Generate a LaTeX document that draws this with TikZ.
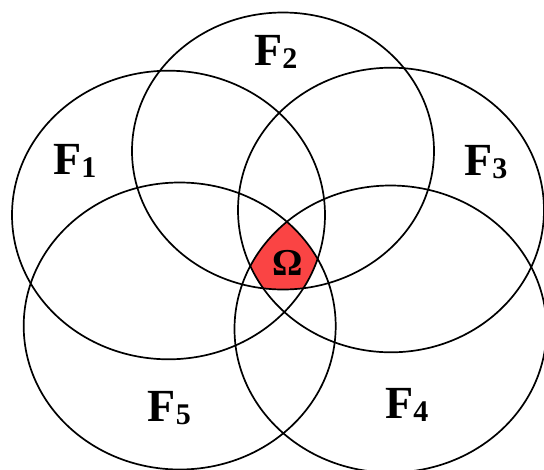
\documentclass[tikz,border=0pt]{standalone}
\usepackage{fontspec}
\setmainfont{Liberation Serif}
\definecolor{omegared}{RGB}{250,68,68}
\tikzset{
  ring/.style={draw=black, line width=1.7pt},
  lab/.style={inner sep=0pt, anchor=base west, font=\fontsize{46}{46}\selectfont\bfseries},
  omlab/.style={inner sep=0pt, font=\fontsize{38}{38}\selectfont\bfseries}
}
\newcommand{\subdig}[1]{\raisebox{-3pt}{\fontsize{30}{30}\selectfont\bfseries #1}}
\begin{document}
\begin{tikzpicture}[x=1pt,y=-1pt]
\useasboundingbox (0,0) rectangle (544,469);
% intersection region
\begin{scope}
  \clip (168.5,215) ellipse [x radius=156.5pt, y radius=144.3pt];
  \clip (283,151) ellipse [x radius=151pt, y radius=138.5pt];
  \clip (391,210) ellipse [x radius=153pt, y radius=142.3pt];
  \clip (390.5,329) ellipse [x radius=156pt, y radius=143.5pt];
  \clip (179.7,326) ellipse [x radius=156pt, y radius=143.5pt];
  \fill[omegared] (200,150) rectangle (380,350);
\end{scope}
\draw[ring] (168.5,215) ellipse [x radius=156.5pt, y radius=144.3pt];
\draw[ring] (283,151) ellipse [x radius=151pt, y radius=138.5pt];
\draw[ring] (391,210) ellipse [x radius=153pt, y radius=142.3pt];
\draw[ring] (390.5,329) ellipse [x radius=156pt, y radius=143.5pt];
\draw[ring] (179.7,326) ellipse [x radius=156pt, y radius=143.5pt];
\node[lab] (f1) at (53,174) {F\subdig{1}};
\node[lab] (f2) at (254,65) {F\subdig{2}};
\node[lab] (f3) at (464,175) {F\subdig{3}};
\node[lab] (f4) at (385,418) {F\subdig{4}};
\node[lab] (f5) at (147.5,421) {F\subdig{5}};
\node[omlab] (om) at (287.5,263) {Ω};
\end{tikzpicture}
\end{document}
